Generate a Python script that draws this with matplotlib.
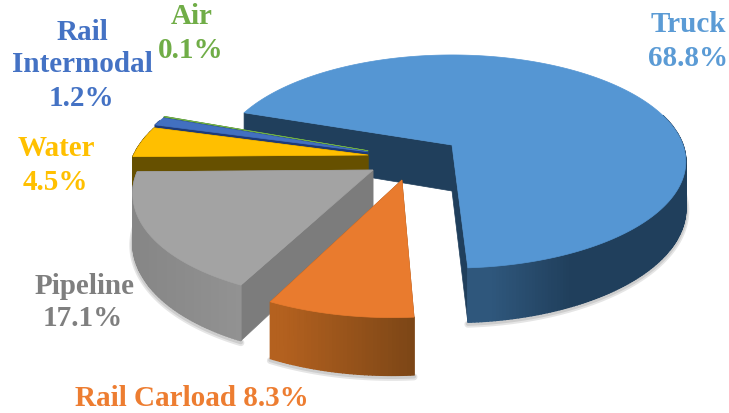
import numpy as np
import matplotlib
matplotlib.use('Agg')
import matplotlib.pyplot as plt
from matplotlib.colors import to_rgb

names = ['Truck', 'Rail Carload', 'Pipeline', 'Water', 'Rail Intermodal', 'Air']
shares = [68.8, 8.3, 17.1, 4.5, 1.2, 0.1]

# (offset of the slice in the pie plane, u to the right and v to the back)
offsets = [(0, 0), (-0.206, -0.32), (-0.33, -0.232), (-0.358, -0.095), (-0.36, -0.065), (-0.36, -0.055)]
radii = [1, 1, 0.98, 1, 1, 1]
trims = [(-1.0, -1.0), (-2.0, -2.0), (-1.8, 0), (0, 0), (0, 0), (0, 0)]
top_colors = ['#5596d3', '#e97b2e', '#a3a3a3', '#ffbf00', '#4270c0', '#6fae48']
wall_colors = ['#203f5c', '#8a4c1c', '#7c7c7c', '#665000', '#1d3a78', '#3f6a28']
side_stops = [
    ((490, '#2f577c'), (570, '#203f5c')),
    ((280, '#b4611f'), (413, '#7c4616')),
    ((135, '#868686'), (240, '#929292')),
    ((135, '#665000'), (160, '#665000')),
    ((155, '#1d3a78'), (170, '#1d3a78')),
    ((160, '#3f6a28'), (170, '#3f6a28')),
]
draw_order = [0, 5, 4, 3, 2, 1]

start_angle = -70.0
cx, cy = 452, 145
A, B, k, depth = 231, 104, 0.155, 46


def project(u, v, z=0.0):
    d = 1 + k * v
    return cx + A * u / d, cy + (z * depth - B * v) / d


def mix(x, stops):
    (x0, c0), (x1, c1) = stops
    t = np.clip((x - x0) / (x1 - x0), 0, 1)
    return tuple((1 - t) * a + t * b for a, b in zip(to_rgb(c0), to_rgb(c1)))


fig = plt.figure(figsize=(7.29, 4.13), dpi=100)
ax = fig.add_axes([0, 0, 1, 1])
ax.set_xlim(0, 729)
ax.set_ylim(413, 0)
ax.axis('off')

edges = start_angle + 3.6 * np.concatenate([[0], np.cumsum(shares)])

for n, i in enumerate(draw_order):
    zo = 1 + n
    a = np.radians(np.linspace(edges[i] + trims[i][0], edges[i + 1] + trims[i][1], max(int(shares[i] * 5), 6)))
    ou, ov = offsets[i]
    u = ou + radii[i] * np.sin(a)
    v = ov + radii[i] * np.cos(a)
    tx, ty = project(u, v)
    bx, by = project(u, v, 1)
    ax0, ay0 = project(ou, ov)
    bx0, by0 = project(ou, ov, 1)

    # soft shadow under the rim, near side only
    if shares[i] > 5:
        front = v < 0.15
        for lw, dy in [(5, 2), (3, 1.5)]:
            ax.plot(bx[front], by[front] + dy, color='k', alpha=0.1, lw=lw,
                    solid_capstyle='round', zorder=zo)

    # the two cut walls
    for j in (0, -1):
        ax.fill([ax0, tx[j], bx[j], bx0], [ay0, ty[j], by[j], by0], color=wall_colors[i], lw=0.5, zorder=zo)

    # rim, as short strips so that it can carry a gradient; the far part is hidden anyway
    for j in range(len(a) - 1):
        if v[j] - ov > 0.3:
            continue
        col = mix((tx[j] + tx[j + 1]) / 2, side_stops[i])
        ax.fill([tx[j], tx[j + 1], bx[j + 1], bx[j]], [ty[j], ty[j + 1], by[j + 1], by[j]],
                color=col, lw=1.0, zorder=zo)

    ax.fill(np.r_[ax0, tx], np.r_[ay0, ty], color=top_colors[i], lw=0.5, zorder=zo)

label_font = dict(family='Liberation Serif', weight='bold', size=21, ha='center', va='center', zorder=20)
ax.text(688, 24.5, names[0], color='#5b9bd5', **label_font)
ax.text(688, 58, f'{shares[0]}%', color='#5b9bd5', **label_font)
ax.text(192, 17, names[5], color='#70ad47', **label_font)
ax.text(191, 51, f'{shares[5]}%', color='#70ad47', **label_font)
ax.text(82, 32, 'Rail', color='#4472c4', **label_font)
ax.text(82, 65, 'Intermodal', color='#4472c4', **label_font)
ax.text(81, 98, f'{shares[4]}%', color='#4472c4', **label_font)
ax.text(56, 149, names[3], color='#ffc000', **label_font)
ax.text(55, 183, f'{shares[3]}%', color='#ffc000', **label_font)
ax.text(85, 286, names[2], color='#7f7f7f', **label_font)
ax.text(83, 319, f'{shares[2]}%', color='#7f7f7f', **label_font)
ax.text(192, 398, f'{names[1]} {shares[1]}%', color='#ed7d31', **label_font)

fig.savefig('out.png', dpi=100)
